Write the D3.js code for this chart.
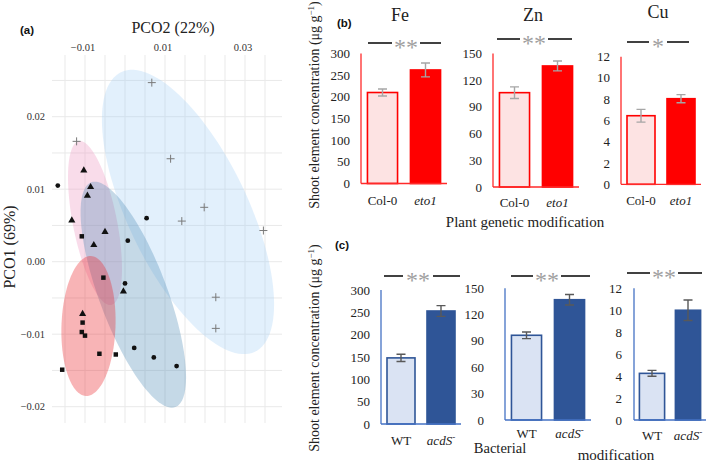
<!DOCTYPE html>
<html><head><meta charset="utf-8">
<script src="https://cdn.jsdelivr.net/npm/d3@7/dist/d3.min.js"></script>
<style>body{margin:0;background:#fff} svg{display:block}</style>
</head><body>
<svg id="c" width="709" height="464"></svg>
<script>
// ---------------- DATA ----------------
// Panel (a): PCO scores [PCO2, PCO1]
const crossPts = [[0.0067,0.0247],[-0.0121,0.0166],[0.0114,0.0142],[0.0198,0.0075],[0.0142,0.0056],[0.0346,0.0043],[0.0227,-0.0049],[0.0227,-0.0092]];
const circlePts = [[-0.0168,0.0105],[0.0054,0.0060],[0.0007,0.0029],[0.0000,-0.0030],[0.0023,-0.0119],[0.0072,-0.0132],[0.0129,-0.0144]];
const trianglePts = [[-0.0103,0.0126],[-0.0086,0.0103],[-0.0094,0.0091],[-0.0133,0.0057],[-0.0050,0.0041],[-0.0078,0.0023],[-0.0004,-0.0041],[-0.0106,-0.0072]];
const squarePts = [[-0.0108,0.0035],[-0.0054,-0.0022],[-0.0106,-0.0084],[-0.0108,-0.0097],[-0.0100,-0.0102],[-0.0064,-0.0127],[-0.0023,-0.0128],[-0.0157,-0.0149]];
// confidence ellipses: centre and two semi-axis vectors (data units)
const ellipseCross = {cx:0.01575, cy:0.00686, ux:0.01674, uy:-0.01928, vx:-0.01353, vy:-0.00358};
const ellipseTriangle = {cx:-0.0075, cy:0.00534, ux:0.00405, uy:-0.01130, vx:-0.00540, vy:-0.00059};
const ellipseCircle = {cx:0.00208, cy:-0.00455, ux:0.01051, uy:-0.01550, vx:-0.00796, vy:-0.00164};
const ellipseSquare = {cx:-0.00913, cy:-0.00887, ux:-0.00061, uy:-0.00965, vx:-0.00675, vy:0.00013};
const pcoGridX = [-0.015,-0.01,-0.005,0,0.005,0.01,0.015,0.02,0.025,0.03,0.035];
const pcoGridY = [-0.02,-0.015,-0.01,-0.005,0,0.005,0.01,0.015,0.02,0.025];
const pcoXTicks = [-0.01,0.01,0.03];
const pcoXLabels = ["\u22120.01","0.01","0.03"];
const pcoYTicks = [0.02,0.01,0,-0.01,-0.02];
const pcoYLabels = ["0.02","0.01","0.00","\u22120.01","\u22120.02"];

// Panels (b) and (c)
const elements = ["Fe","Zn","Cu"];
const plantCats = ["Col-0","eto1"];
const bactCats = ["WT","acdS"];
const plantMean = [[210,262],[106,136],[6.45,8.05]];
const plantErr  = [[8,16],[6.5,5.5],[0.6,0.38]];
const bactMean  = [[148,253],[96.5,137],[4.25,10.0]];
const bactErr   = [[8,12],[3.8,6],[0.27,0.94]];
const plantTicks = [[0,50,100,150,200,250,300],[0,30,60,90,120,150],[0,2,4,6,8,10,12]];
const bactTicks  = [[0,50,100,150,200,250,300],[0,30,60,90,120,150],[0,2,4,6,8,10,12]];
const plantSig = ["**","**","*"];
const bactSig  = ["**","**","**"];

// ---------------- DRAW ----------------
const svg = d3.select("#c");
const serif = "'Liberation Serif','Times New Roman',serif";
const sans = "'Liberation Sans',Arial,sans-serif";

// ----- panel (a)
const xA = d3.scaleLinear().domain([-0.01825,0.03925]).range([52,282]);
const yA = d3.scaleLinear().domain([-0.02225,0.02851]).range([423,55]);
const gA = svg.append("g");
gA.selectAll("line.gx").data(pcoGridX).join("line")
  .attr("x1",d=>xA(d)).attr("x2",d=>xA(d)).attr("y1",yA.range()[1]).attr("y2",yA.range()[0])
  .attr("stroke","#e9e9e9").attr("stroke-width",1);
gA.selectAll("line.gy").data(pcoGridY).join("line")
  .attr("y1",d=>yA(d)).attr("y2",d=>yA(d)).attr("x1",xA.range()[0]).attr("x2",xA.range()[1])
  .attr("stroke","#e9e9e9").attr("stroke-width",1);

const ellLine = d3.line().x(d=>xA(d[0])).y(d=>yA(d[1])).curve(d3.curveLinearClosed);
function ellPts(e){
  return d3.range(0,360,3).map(a=>{const t=a*Math.PI/180;
    return [e.cx+e.ux*Math.cos(t)+e.vx*Math.sin(t), e.cy+e.uy*Math.cos(t)+e.vy*Math.sin(t)];});
}
const ells = [[ellipseCross,"#9fcdf5",0.3],[ellipseTriangle,"#ee9bc3",0.35],[ellipseCircle,"#4a88b4",0.32],[ellipseSquare,"#eb292e",0.35]];
ells.forEach(([e,c,o])=>gA.append("path").attr("d",ellLine(ellPts(e))).attr("fill",c).attr("fill-opacity",o));

// points
gA.selectAll("path.cr").data(crossPts).join("path")
  .attr("transform",d=>`translate(${xA(d[0])},${yA(d[1])})`)
  .attr("d","M-4,0H4M0,-4V4").attr("stroke","#7a7a7a").attr("stroke-width",1).attr("fill","none");
const sym = (t,s)=>d3.symbol().type(t).size(s)();
gA.selectAll("path.ci").data(circlePts).join("path")
  .attr("transform",d=>`translate(${xA(d[0])},${yA(d[1])})`).attr("d",sym(d3.symbolCircle,18)).attr("fill","#111");
gA.selectAll("path.tr").data(trianglePts).join("path")
  .attr("transform",d=>`translate(${xA(d[0])},${yA(d[1])})`).attr("d",sym(d3.symbolTriangle,22)).attr("fill","#111");
gA.selectAll("path.sq").data(squarePts).join("path")
  .attr("transform",d=>`translate(${xA(d[0])},${yA(d[1])})`).attr("d",sym(d3.symbolSquare,20)).attr("fill","#111");

// axis labels (a)
gA.selectAll("text.xt").data(pcoXTicks).join("text")
  .attr("x",d=>xA(d)-2).attr("y",51).attr("text-anchor","middle")
  .attr("font-family",serif).attr("font-size",10.5).attr("fill","#333").text((d,i)=>pcoXLabels[i]);
gA.selectAll("text.yt").data(pcoYTicks).join("text")
  .attr("x",45).attr("y",d=>yA(d)+3.5).attr("text-anchor","end")
  .attr("font-family",serif).attr("font-size",10.5).attr("fill","#333").text((d,i)=>pcoYLabels[i]);
gA.append("text").attr("x",173).attr("y",33).attr("text-anchor","middle")
  .attr("font-family",serif).attr("font-size",16).attr("fill","#222").text("PCO2 (22%)");
gA.append("text").attr("transform","translate(15,247) rotate(-90)").attr("text-anchor","middle")
  .attr("font-family",serif).attr("font-size",16).attr("fill","#222").text("PCO1 (69%)");
gA.append("text").attr("x",20).attr("y",34).attr("font-family",sans).attr("font-weight","bold")
  .attr("font-size",11.5).attr("fill","#111").text("(a)");

// ----- bar panels
const plantLayout = [
  {ax:361,L:86,y0:183.5,yTop:53.5,lab:11,sigY:43,sigC:406,sigL:368,sigR:441,gap:14,tx:400,ty:21,cy:21},
  {ax:493,L:86,y0:187,yTop:53.5,lab:11,sigY:39,sigC:534,sigL:497,sigR:572,gap:14,tx:533,ty:21,cy:20},
  {ax:621,L:80,y0:184.3,yTop:56.7,lab:11,sigY:42,sigC:658,sigL:627,sigR:689,gap:9,tx:658,ty:18,cy:21}];
const bactLayout = [
  {ax:381,L:80,y0:424,yTop:290,lab:11,sigY:276,sigC:418,sigL:384,sigR:460,gap:15,cy:21},
  {ax:505,L:86,y0:420,yTop:288.3,lab:21,sigY:276,sigC:547,sigL:511,sigR:590,gap:14,cy:18},
  {ax:634,L:72,y0:420,yTop:288.3,lab:12,sigY:273,sigC:664,sigL:627,sigR:702,gap:14,cy:20}];

function barPanel(lay, cats, means, errs, ticks, sig, st){
  const g = svg.append("g");
  const x = d3.scaleBand().domain(cats).range([lay.ax, lay.ax+lay.L]).paddingInner(0.3).paddingOuter(0.15);
  const y = d3.scaleLinear().domain([0, ticks[ticks.length-1]]).range([lay.y0, lay.yTop]);
  // bars
  g.selectAll("rect").data(cats).join("rect")
    .attr("x",d=>x(d)).attr("width",x.bandwidth())
    .attr("y",(d,i)=>y(means[i])).attr("height",(d,i)=>y(0)-y(means[i]))
    .attr("fill",(d,i)=>st.fill[i]).attr("stroke",st.stroke).attr("stroke-width",1.6);
  // axes
  g.append("line").attr("x1",lay.ax).attr("x2",lay.ax).attr("y1",y(0)).attr("y2",lay.yTop)
    .attr("stroke",st.axis).attr("stroke-width",1.3);
  g.append("line").attr("x1",lay.ax).attr("x2",lay.ax+lay.L).attr("y1",y(0)).attr("y2",y(0))
    .attr("stroke",st.axis).attr("stroke-width",1.3);
  g.selectAll("text.t").data(ticks).join("text")
    .attr("x",lay.ax-lay.lab).attr("y",d=>y(d)+4.5).attr("text-anchor","end")
    .attr("font-family",serif).attr("font-size",13).attr("fill","#222").text(d=>d);
  // error bars
  cats.forEach((c,i)=>{
    const cx = x(c)+x.bandwidth()/2, lo=y(means[i]-errs[i]), hi=y(means[i]+errs[i]);
    g.append("path").attr("d",`M${cx},${lo}V${hi}M${cx-4.5},${lo}H${cx+4.5}M${cx-4.5},${hi}H${cx+4.5}`)
      .attr("stroke",st.err).attr("stroke-width",1.4).attr("fill","none");
  });
  // category labels
  cats.forEach((c,i)=>{
    const t = g.append("text").attr("x",x(c)+x.bandwidth()/2).attr("y",y(0)+lay.cy).attr("text-anchor","middle")
      .attr("font-family",serif).attr("font-size",13).attr("fill","#222");
    if(i===0) t.text(c);
    else { t.attr("font-style","italic").text(c); if(st.supMinus) t.append("tspan").attr("dy",-5).attr("font-size",9).text("-"); }
  });
  // significance
  g.append("line").attr("x1",lay.sigL).attr("x2",lay.sigC-lay.gap).attr("y1",lay.sigY).attr("y2",lay.sigY).attr("stroke","#111").attr("stroke-width",1.6);
  g.append("line").attr("x1",lay.sigC+lay.gap).attr("x2",lay.sigR).attr("y1",lay.sigY).attr("y2",lay.sigY).attr("stroke","#111").attr("stroke-width",1.6);
  g.append("text").attr("x",lay.sigC).attr("y",lay.sigY+12).attr("text-anchor","middle")
    .attr("font-family",serif).attr("font-size",24).attr("fill","#a0a0a0").text(sig);
  return {g,x,y};
}
const plantStyle = {fill:["#fde3e3","#ff0000"],stroke:"#ff0000",axis:"#ff2a2a",err:"#a6a6a6",supMinus:false};
const bactStyle  = {fill:["#dae3f3","#2f5597"],stroke:"#2f5597",axis:"#4472c4",err:"#595959",supMinus:true};

elements.forEach((el,k)=>{
  barPanel(plantLayout[k], plantCats, plantMean[k], plantErr[k], plantTicks[k], plantSig[k], plantStyle);
  svg.append("text").attr("x",plantLayout[k].tx).attr("y",plantLayout[k].ty).attr("text-anchor","middle")
    .attr("font-family",serif).attr("font-size",18).attr("fill","#222").text(el);
  barPanel(bactLayout[k], bactCats, bactMean[k], bactErr[k], bactTicks[k], bactSig[k], bactStyle);
});

// panel labels & titles
svg.append("text").attr("x",337).attr("y",27).attr("font-family",sans).attr("font-weight","bold").attr("font-size",11.5).attr("fill","#111").text("(b)");
svg.append("text").attr("x",335).attr("y",249).attr("font-family",sans).attr("font-weight","bold").attr("font-size",11.5).attr("fill","#111").text("(c)");
function yTitle(cy){
  const t = svg.append("text").attr("transform",`translate(319,${cy}) rotate(-90)`).attr("text-anchor","middle")
    .attr("font-family",serif).attr("font-size",14).attr("fill","#222");
  t.append("tspan").text("Shoot element concentration (\u03bcg g");
  t.append("tspan").attr("dy",-5).attr("font-size",9).text("\u22121");
  t.append("tspan").attr("dy",5).text(")");
}
yTitle(105); yTitle(348);
svg.append("text").attr("x",525).attr("y",227).attr("text-anchor","middle").attr("font-family",serif).attr("font-size",15).attr("fill","#222").text("Plant genetic modification");
svg.append("text").attr("x",500).attr("y",453).attr("text-anchor","middle").attr("font-family",serif).attr("font-size",14.5).attr("fill","#222").text("Bacterial");
svg.append("text").attr("x",616).attr("y",460).attr("text-anchor","middle").attr("font-family",serif).attr("font-size",15).attr("fill","#222").text("modification");
</script>
</body></html>
